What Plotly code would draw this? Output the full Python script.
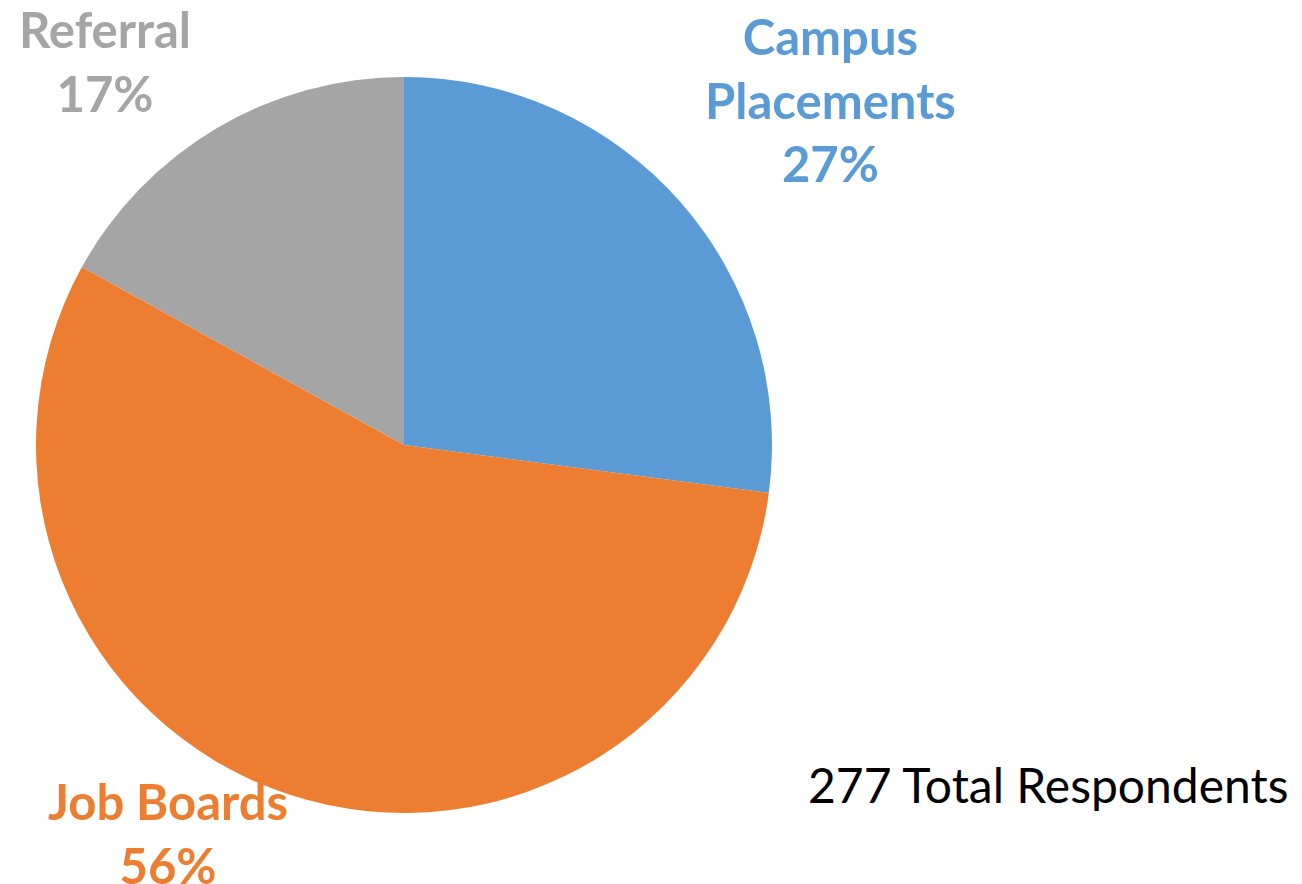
import plotly.graph_objects as go

# Data
categories = ["Campus Placements", "Job Boards", "Referral"]
counts = [75, 155, 47]
percent_labels = ["27%", "56%", "17%"]
label_text = ["Campus<br>Placements", "Job Boards", "Referral"]
colors = ["#5B9BD5", "#ED7D31", "#A5A5A5"]
total_label = "277 Total Respondents"

W, H = 1302, 884
cx, cy, r = 396, 437, 368

fig = go.Figure()
fig.add_trace(go.Pie(
    labels=categories, values=counts, sort=False, direction="clockwise", rotation=0,
    marker=dict(colors=colors, line=dict(width=0)),
    textinfo="none", hoverinfo="label+percent", showlegend=False,
    domain=dict(x=[(cx - r) / W, (cx + r) / W], y=[1 - (cy + r) / H, 1 - (cy - r) / H]),
))

def px(x):
    return x / W

def py(y):
    return 1 - y / H

# (center x, anchor y, yanchor)
label_pos = {
    "Campus Placements": (823, -3, "top"),
    "Referral": (97, -10, "top"),
    "Job Boards": (160, 888, "bottom"),
}
annotations = []
for cat, txt, col, pct in zip(categories, label_text, colors, percent_labels):
    x, y, ya = label_pos[cat]
    annotations.append(dict(
        x=px(x), y=py(y), xref="paper", yref="paper",
        text=f"<b>{txt}<br>{pct}</b>",
        showarrow=False, xanchor="center", yanchor=ya, align="center",
        font=dict(family="Lato", size=49, color=col),
    ))
annotations.append(dict(
    x=px(1040), y=py(776), xref="paper", yref="paper", text=total_label,
    showarrow=False, xanchor="center", yanchor="middle",
    font=dict(family="Lato", size=48, color="black"),
))

fig.update_layout(
    width=W, height=H, margin=dict(l=0, r=0, t=0, b=0),
    paper_bgcolor="white", plot_bgcolor="white",
    annotations=annotations,
)
fig.write_html("out.html")
